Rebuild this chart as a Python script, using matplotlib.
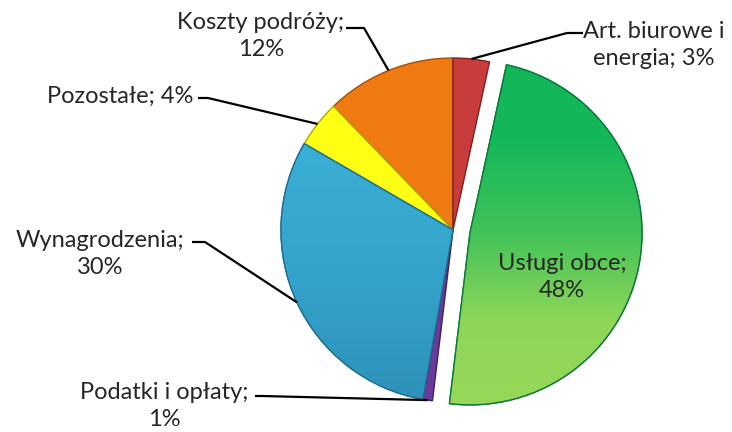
import numpy as np
import matplotlib
matplotlib.use('Agg')
import matplotlib.pyplot as plt
from matplotlib.colors import LinearSegmentedColormap
from matplotlib.patches import Wedge

# data (counter-clockwise from 12 o'clock)
labels = ['Koszty podróży', 'Pozostałe', 'Wynagrodzenia', 'Podatki i opłaty',
          'Usługi obce', 'Art. biurowe i energia']
shares = [12.2, 4.4, 30.5, 0.9, 48.4, 3.4]
label_text = ['Koszty podróży;\n12%', 'Pozostałe; 4%', 'Wynagrodzenia;\n30%',
              'Podatki i opłaty;\n1%', 'Usługi obce;\n48%', 'Art. biurowe i\nenergia; 3%']

colors = ['#f07a12', '#ffff14', '#36a8d0', '#6a3a9a', '#14b85a', '#c83c3c']
edges = ['#a44f08', '#b0a800', '#1f6f90', '#3e1f60', '#0a7a38', '#7e2020']

plt.rcParams['font.family'] = ['Lato', 'DejaVu Sans']

fig = plt.figure(figsize=(7.32, 4.32), dpi=100)
ax = fig.add_axes([0, 0, 1, 1])

cx, cy, r = 453, 202, 172
explode = [0, 0, 0, 0, 0.1 * r, 0]
wedges, _ = ax.pie(shares, startangle=90, counterclock=True, colors=colors,
                   explode=explode, center=(cx, cy), radius=r,
                   wedgeprops=dict(linewidth=1.0))
for w, ec in zip(wedges, edges):
    w.set_edgecolor(ec)

grad = np.linspace(0, 1, 256).reshape(-1, 1)

# gradient on the green slice (dark on top, light at the bottom)
g = wedges[4]
cmap = LinearSegmentedColormap.from_list('g', ['#12b658', '#14b85a', '#40c258', '#8ed658', '#98d858'])
im = ax.imshow(grad, cmap=cmap, extent=(cx - 20, cx + r + 40, cy - r - 10, cy + r + 10),
               aspect='auto', zorder=g.get_zorder() + 0.1)
im.set_clip_path(g)

# blue: slight vertical shading
b = wedges[2]
cmap_b = LinearSegmentedColormap.from_list('b', ['#3cb0d8', '#34a4cc', '#2e92ba'])
imb = ax.imshow(grad, cmap=cmap_b, extent=(cx - r, cx, cy - r, cy + 100),
                aspect='auto', zorder=b.get_zorder() + 0.1)
imb.set_clip_path(b)

# outlines on top of gradients
for w, ec in zip([g, b], [edges[4], edges[2]]):
    ax.add_patch(Wedge(w.center, w.r, w.theta1, w.theta2, facecolor='none',
                       edgecolor=ec, linewidth=1.0, zorder=5))

ax.set_xlim(0, 732)
ax.set_ylim(0, 432)
ax.set_aspect('equal')
ax.axis('off')

txt = '#262626'
fs = 17
ls = 1.3
# outside labels: text centre (px), leader tick start / end (px)
lab_pos = {
    0: ((261, 36), (346, 28), (364, 28)),
    1: ((120, 96), (198, 98), (208, 98)),
    2: ((100, 254), (192, 242), (205, 242)),
    3: ((164, 406), (255, 396), (262, 396)),
    5: ((654, 45), (583, 33), (567, 33)),
}
for i, ((tx, ty), p0, p1) in lab_pos.items():
    w = wedges[i]
    mid = np.deg2rad((w.theta1 + w.theta2) / 2)
    ex = w.center[0] + w.r * np.cos(mid)
    ey = w.center[1] + w.r * np.sin(mid)
    ax.text(tx, 432 - ty, label_text[i], ha='center', va='center', fontsize=fs,
            color=txt, linespacing=ls)
    ax.plot([p0[0], p1[0], ex], [432 - p0[1], 432 - p1[1], ey], color='black',
            lw=1.6, solid_capstyle='butt', zorder=6)

ax.text(562, 432 - 277, label_text[4], ha='center', va='center', fontsize=fs,
        color=txt, linespacing=ls, zorder=7)

fig.savefig('out.png', dpi=100, facecolor='white')
